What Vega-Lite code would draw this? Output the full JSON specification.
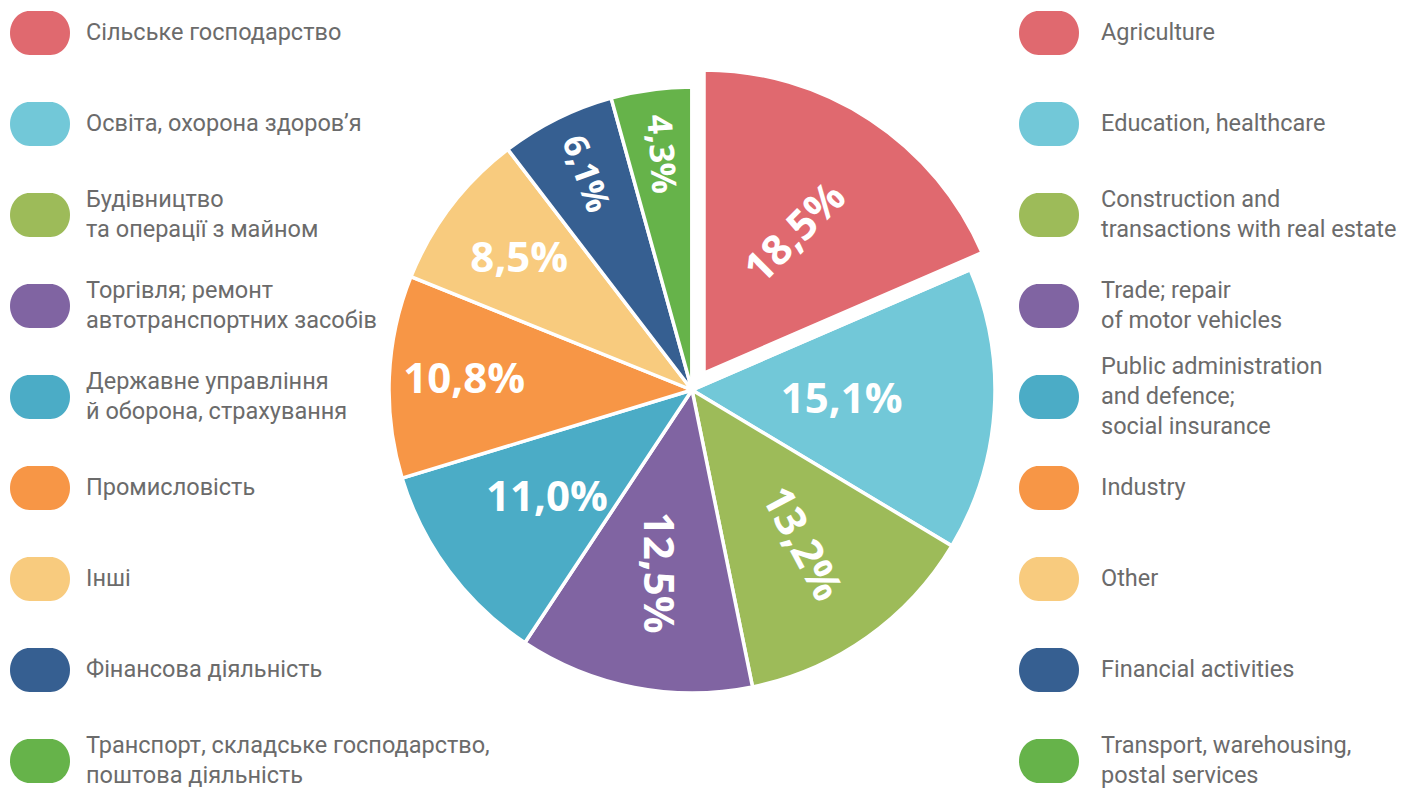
{
  "$schema": "https://vega.github.io/schema/vega-lite/v6.json",
  "width": 1384,
  "height": 780,
  "autosize": {"type": "none"},
  "padding": {"left": 0, "top": 0, "right": 18, "bottom": 11},
  "background": "white",
  "config": {"view": {"stroke": null}, "font": "Roboto"},
  "data": {
    "values": [
      {"order": 1, "ua": "Сільське господарство", "en": "Agriculture", "value": 18.5, "label": "18,5%"},
      {"order": 2, "ua": "Освіта, охорона здоров’я", "en": "Education, healthcare", "value": 15.1, "label": "15,1%"},
      {"order": 3, "ua": "Будівництво\nта операції з майном", "en": "Construction and\ntransactions with real estate", "value": 13.2, "label": "13,2%"},
      {"order": 4, "ua": "Торгівля; ремонт\nавтотранспортних засобів", "en": "Trade; repair\nof motor vehicles", "value": 12.5, "label": "12,5%"},
      {"order": 5, "ua": "Державне управління\nй оборона, страхування", "en": "Public administration\nand defence;\nsocial insurance", "value": 11.0, "label": "11,0%"},
      {"order": 6, "ua": "Промисловість", "en": "Industry", "value": 10.8, "label": "10,8%"},
      {"order": 7, "ua": "Інші", "en": "Other", "value": 8.5, "label": "8,5%"},
      {"order": 8, "ua": "Фінансова діяльність", "en": "Financial activities", "value": 6.1, "label": "6,1%"},
      {"order": 9, "ua": "Транспорт, складське господарство,\nпоштова діяльність", "en": "Transport, warehousing,\npostal services", "value": 4.3, "label": "4,3%"}
    ]
  },
  "resolve": {"scale": {"color": "independent"}, "legend": {"color": "independent"}},
  "encoding": {
    "theta": {"field": "value", "type": "quantitative", "stack": true},
    "order": {"field": "order", "type": "quantitative"}
  },
  "layer": [
    {
      "mark": {"type": "arc", "outerRadius": 303, "stroke": "white", "strokeWidth": 3.5},
      "encoding": {
        "color": {
          "field": "en", "type": "nominal", "sort": {"field": "order"},
          "scale": {"range": ["#E0696F", "#72C8D8", "#9DBB59", "#8064A2", "#4BACC6", "#F79646", "#F8CB7E", "#365F91", "#66B34A"]},
          "legend": null
        }
      }
    },
    {
      "mark": {"type": "arc", "outerRadius": 304, "fill": "white", "stroke": "white", "strokeWidth": 3.5},
      "encoding": {
        "detail": {"field": "en"},
        "opacity": {"condition": {"test": "datum.order == 1", "value": 1}, "value": 0}
      }
    },
    {
      "mark": {"type": "arc", "outerRadius": 303, "fill": "#E0696F", "stroke": "white", "strokeWidth": 3.5, "xOffset": 12, "yOffset": -17},
      "encoding": {
        "detail": {"field": "en"},
        "opacity": {"condition": {"test": "datum.order == 1", "value": 1}, "value": 0}
      }
    },
    {
      "mark": {"type": "text", "text": ""},
      "encoding": {
        "fill": {
          "field": "ua", "type": "nominal", "sort": {"field": "order"},
          "scale": {"range": ["#E0696F", "#72C8D8", "#9DBB59", "#8064A2", "#4BACC6", "#F79646", "#F8CB7E", "#365F91", "#66B34A"]},
          "legend": {
            "orient": "none", "legendX": 10, "legendY": -12.5, "title": null, "padding": 0,
            "symbolType": "M-0.35,-0.733L0.35,-0.733A0.65,0.733 0 0 1 0.35,0.733L-0.35,0.733A0.65,0.733 0 0 1 -0.35,-0.733Z",
            "symbolSize": 3600, "symbolStrokeWidth": 0,
            "labelFont": "Roboto", "labelFontSize": 23.5, "labelColor": "#6b6b6b", "labelLimit": 700, "labelOffset": 16,
            "clipHeight": 91, "rowPadding": 0,
            "labelExpr": "split(datum.label, '\\n')",
            "encode": {"labels": {"update": {"lineHeight": {"value": 30}, "dy": {"signal": "-15*(length(split(datum.label, '\\n'))-1)"}}}}
          }
        }
      }
    },
    {
      "mark": {"type": "text", "text": ""},
      "encoding": {
        "color": {
          "field": "en", "type": "nominal", "sort": {"field": "order"},
          "scale": {"range": ["#E0696F", "#72C8D8", "#9DBB59", "#8064A2", "#4BACC6", "#F79646", "#F8CB7E", "#365F91", "#66B34A"]},
          "legend": {
            "orient": "none", "legendX": 1019, "legendY": -12.5, "title": null, "padding": 0,
            "symbolType": "M-0.35,-0.733L0.35,-0.733A0.65,0.733 0 0 1 0.35,0.733L-0.35,0.733A0.65,0.733 0 0 1 -0.35,-0.733Z",
            "symbolSize": 3600, "symbolStrokeWidth": 0,
            "labelFont": "Roboto", "labelFontSize": 23.5, "labelColor": "#6b6b6b", "labelLimit": 700, "labelOffset": 22,
            "clipHeight": 91, "rowPadding": 0,
            "labelExpr": "split(datum.label, '\\n')",
            "encode": {"labels": {"update": {"lineHeight": {"value": 30}, "dy": {"signal": "-15*(length(split(datum.label, '\\n'))-1)"}}}}
          }
        }
      }
    },
    {
      "mark": {"type": "text", "radius": 167, "angle": -45, "xOffset": 12, "yOffset": -17, "font": "Open Sans", "fontWeight": "bold", "fontSize": 42, "fill": "white", "align": "center", "baseline": "middle"},
      "encoding": {"detail": {"field": "en"}, "text": {"field": "label"}, "opacity": {"condition": {"test": "datum.order == 1", "value": 1}, "value": 0}}
    },
    {
      "mark": {"type": "text", "radius": 150, "font": "Open Sans", "fontWeight": "bold", "fontSize": 42, "fill": "white", "align": "center", "baseline": "middle"},
      "encoding": {"detail": {"field": "en"}, "text": {"field": "label"}, "opacity": {"condition": {"test": "datum.order == 2", "value": 1}, "value": 0}}
    },
    {
      "mark": {"type": "text", "radius": 189, "angle": 62, "font": "Open Sans", "fontWeight": "bold", "fontSize": 42, "fill": "white", "align": "center", "baseline": "middle"},
      "encoding": {"detail": {"field": "en"}, "text": {"field": "label"}, "opacity": {"condition": {"test": "datum.order == 3", "value": 1}, "value": 0}}
    },
    {
      "mark": {"type": "text", "radius": 186, "angle": 90, "font": "Open Sans", "fontWeight": "bold", "fontSize": 42, "fill": "white", "align": "center", "baseline": "middle"},
      "encoding": {"detail": {"field": "en"}, "text": {"field": "label"}, "opacity": {"condition": {"test": "datum.order == 4", "value": 1}, "value": 0}}
    },
    {
      "mark": {"type": "text", "radius": 181, "font": "Open Sans", "fontWeight": "bold", "fontSize": 42, "fill": "white", "align": "center", "baseline": "middle"},
      "encoding": {"detail": {"field": "en"}, "text": {"field": "label"}, "opacity": {"condition": {"test": "datum.order == 5", "value": 1}, "value": 0}}
    },
    {
      "mark": {"type": "text", "radius": 228, "font": "Open Sans", "fontWeight": "bold", "fontSize": 42, "fill": "white", "align": "center", "baseline": "middle"},
      "encoding": {"detail": {"field": "en"}, "text": {"field": "label"}, "opacity": {"condition": {"test": "datum.order == 6", "value": 1}, "value": 0}}
    },
    {
      "mark": {"type": "text", "radius": 217, "font": "Open Sans", "fontWeight": "bold", "fontSize": 42, "fill": "white", "align": "center", "baseline": "middle"},
      "encoding": {"detail": {"field": "en"}, "text": {"field": "label"}, "opacity": {"condition": {"test": "datum.order == 7", "value": 1}, "value": 0}}
    },
    {
      "mark": {"type": "text", "radius": 241, "angle": 70, "font": "Open Sans", "fontWeight": "bold", "fontSize": 34, "fill": "white", "align": "center", "baseline": "middle"},
      "encoding": {"detail": {"field": "en"}, "text": {"field": "label"}, "opacity": {"condition": {"test": "datum.order == 8", "value": 1}, "value": 0}}
    },
    {
      "mark": {"type": "text", "radius": 238, "angle": 86, "font": "Open Sans", "fontWeight": "bold", "fontSize": 34, "fill": "white", "align": "center", "baseline": "middle"},
      "encoding": {"detail": {"field": "en"}, "text": {"field": "label"}, "opacity": {"condition": {"test": "datum.order == 9", "value": 1}, "value": 0}}
    }
  ]
}
